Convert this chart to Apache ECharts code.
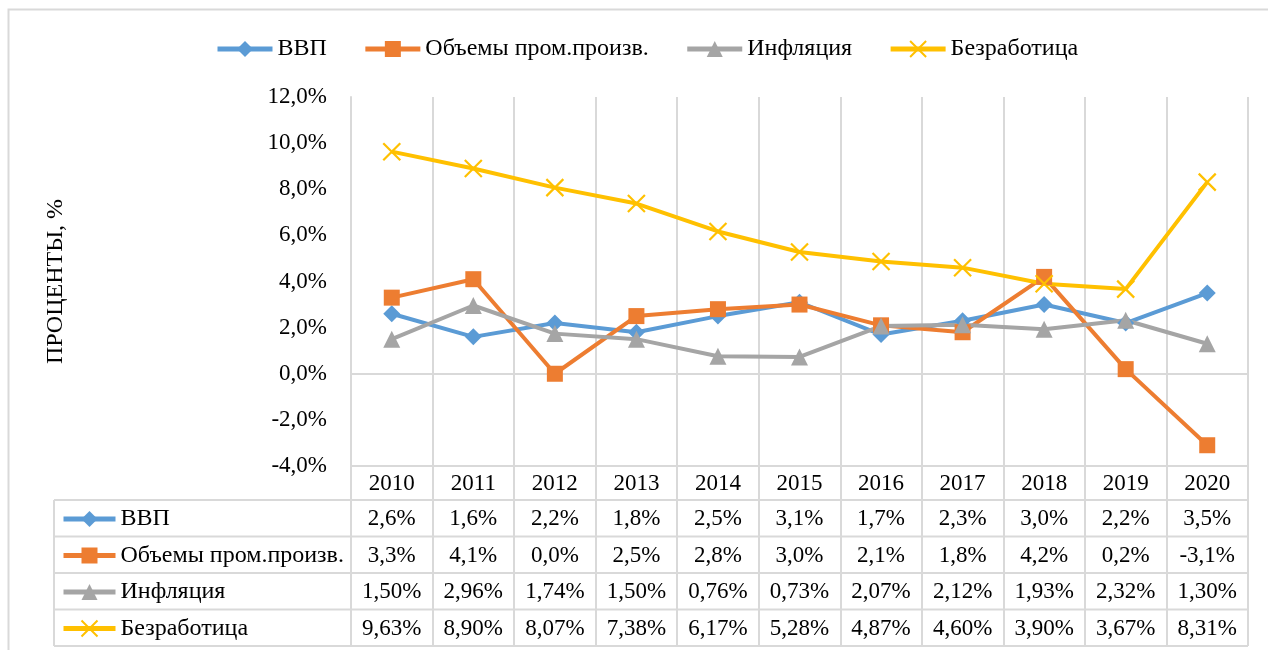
<!DOCTYPE html>
<html><head><meta charset="utf-8">
<script src="https://cdn.jsdelivr.net/npm/echarts@6/dist/echarts.min.js"></script>
<style>html,body{margin:0;padding:0;background:#fff}#c{width:1268px;height:650px}</style>
</head><body><div id="c"></div>
<script>
const categories = ['2010','2011','2012','2013','2014','2015','2016','2017','2018','2019','2020'];
const gdp = [2.6,1.6,2.2,1.8,2.5,3.1,1.7,2.3,3.0,2.2,3.5];
const industry = [3.3,4.1,0.0,2.5,2.8,3.0,2.1,1.8,4.2,0.2,-3.1];
const inflation = [1.50,2.96,1.74,1.50,0.76,0.73,2.07,2.12,1.93,2.32,1.30];
const unemployment = [9.63,8.90,8.07,7.38,6.17,5.28,4.87,4.60,3.90,3.67,8.31];
const seriesNames = ['ВВП','Объемы пром.произв.','Инфляция','Безработица'];
const seriesDecimals = [1,1,2,2];
const yAxisName = 'ПРОЦЕНТЫ, %';
const yMin = -4, yMax = 12, yStep = 2;

const FONT = '"Liberation Serif","Times New Roman",serif';
const FS = 23, LFS = 24;
const GRID = '#d9d9d9';
const colors = ['#5B9BD5','#ED7D31','#A5A5A5','#FFC000'];
const allData = [gdp, industry, inflation, unemployment];
const fmt = (v, d) => v.toFixed(d).replace('.', ',') + '%';

// layout
const plotLeft = 351, plotRight = 20, plotTop = 97, plotBottomY = 466;
const yearRowH = 34, rowH = 36.5, tableLeft = 54;
const tableBottom = plotBottomY + yearRowH + rowH * 4;

const symbols = ['diamond','rect','triangle','path://M0,0L10,10M10,0L0,10'];
const symSizes = [17,16,17,17];

const series = seriesNames.map((name, i) => {
  const s = {
    name, type: 'line', data: allData[i], xAxisIndex: 0, yAxisIndex: 0,
    symbol: symbols[i], symbolSize: symSizes[i], z: 3,
    lineStyle: {color: colors[i], width: 4},
    itemStyle: {color: colors[i], borderColor: colors[i], borderWidth: i === 3 ? 2.2 : 0},
    emphasis: {disabled: true}, animation: false
  };
  if (i === 0) {
    s.markLine = {silent: true, symbol: 'none', z: 1, animation: false,
      lineStyle: {color: GRID, width: 2, type: 'solid'}, label: {show: false},
      data: [{yAxis: 0}]};
  }
  return s;
});

const rich = {
  y: {fontFamily: FONT, fontSize: FS, color: '#000', lineHeight: yearRowH},
  v: {fontFamily: FONT, fontSize: FS, color: '#000', lineHeight: rowH}
};

const hLines = [];
for (let r = 0; r <= 4; r++) {
  const y = plotBottomY + yearRowH + rowH * r;
  hLines.push({type: 'line', shape: {x1: tableLeft, y1: y, x2: 1268 - plotRight, y2: y},
    style: {stroke: GRID, lineWidth: 2}, silent: true});
}
hLines.push({type: 'line', shape: {x1: tableLeft, y1: plotBottomY + yearRowH, x2: tableLeft, y2: tableBottom},
  style: {stroke: GRID, lineWidth: 2}, silent: true});
hLines.push({type: 'rect', shape: {x: 8.5, y: 9.5, width: 1400, height: 800},
  style: {stroke: GRID, lineWidth: 2, fill: 'none'}, silent: true});

const legendText = {fontFamily: FONT, fontSize: LFS, color: '#000', lineHeight: 24};
const chart = echarts.init(document.getElementById('c'), null, {renderer: 'canvas'});
chart.setOption({
  animation: false,
  backgroundColor: '#fff',
  textStyle: {fontFamily: FONT},
  legend: [
    {data: seriesNames, left: 210, top: 32, itemWidth: 55, itemHeight: 20, itemGap: 36,
     lineStyle: {width: 5}, textStyle: legendText},
    {data: seriesNames, orient: 'vertical', left: 56, top: 502, itemWidth: 52, itemHeight: 20, itemGap: 12.5,
     lineStyle: {width: 5}, textStyle: legendText}
  ],
  grid: [
    {left: plotLeft, right: plotRight, top: plotTop, bottom: 650 - plotBottomY, containLabel: false},
    {left: plotLeft, right: plotRight, top: plotBottomY, height: tableBottom - plotBottomY, containLabel: false}
  ],
  xAxis: [
    {type: 'category', data: categories, gridIndex: 0, boundaryGap: true,
     axisLine: {show: true, onZero: false, lineStyle: {color: GRID, width: 2}},
     axisTick: {show: false},
     splitLine: {show: true, lineStyle: {color: GRID, width: 2}},
     axisLabel: {interval: 0, margin: 1, verticalAlign: 'top', rich,
       formatter: (val, idx) => `{y|${val}}\n` + allData.map((d, i) => `{v|${fmt(d[idx], seriesDecimals[i])}}`).join('\n')}},
    {type: 'category', data: categories, gridIndex: 1, boundaryGap: true,
     axisLine: {show: false}, axisTick: {show: false}, axisLabel: {show: false},
     splitLine: {show: true, lineStyle: {color: GRID, width: 2}}}
  ],
  yAxis: [
    {type: 'value', gridIndex: 0, min: yMin, max: yMax, interval: yStep,
     name: yAxisName, nameLocation: 'middle', nameGap: 283,
     nameTextStyle: {fontFamily: FONT, fontSize: LFS, color: '#000'},
     axisLine: {show: true, lineStyle: {color: GRID, width: 2}},
     axisTick: {show: false}, splitLine: {show: false},
     axisLabel: {margin: 24, fontFamily: FONT, fontSize: FS, color: '#000',
       formatter: v => fmt(v, 1)}},
    {type: 'value', gridIndex: 1, min: 0, max: 1, show: false}
  ],
  graphic: hLines,
  series
});
</script></body></html>
